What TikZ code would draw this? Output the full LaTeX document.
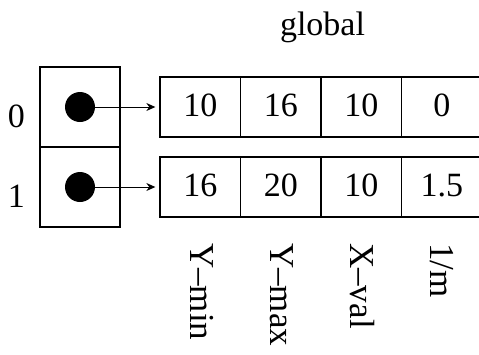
\documentclass[tikz,border=0pt]{standalone}
\usepackage{fontspec}
\setmainfont{Liberation Serif}
\usetikzlibrary{arrows.meta}
\begin{document}
\begin{tikzpicture}[x=1pt,y=-1pt,
  txt/.style={font=\fontsize{34}{40}\selectfont},
  cell/.style={txt,draw,line width=1.3pt,minimum width=80.5pt,minimum height=60pt,
    inner sep=0pt,text height=24pt,text depth=6pt},
  slot/.style={draw,line width=1.3pt,minimum width=80pt,minimum height=80pt,inner sep=0pt},
  dot/.style={circle,fill=black,minimum size=30pt,inner sep=0pt},
  lbl/.style={txt,inner sep=0pt,anchor=base},
  field/.style={font=\fontsize{35}{40}\selectfont,inner sep=0pt,rotate=-90,anchor=base west},
  ptr/.style={line width=1pt,-{Stealth[length=9pt,width=8pt]},shorten >=4pt}]
\useasboundingbox (0,0) rectangle (479,354);
\clip (0,0) rectangle (479,354);

% heading
\node[lbl] (g) at (322.5,35) {global};

% pointer array
\node[slot] (s0) at (80,107) {};
\node[slot] (s1) at (80,187) {};
\node[lbl] (i0) at (16.5,127) {0};
\node[lbl] (i1) at (16.5,207) {1};
\node[dot] (d0) at (80,107) {};
\node[dot] (d1) at (80,187) {};

% records
\node[cell] (a1) at (200.25,107) {10};
\node[cell] (a2) at (280.75,107) {16};
\node[cell] (a3) at (361.25,107) {10};
\node[cell] (a4) at (441.75,107) {0};
\node[cell] (b1) at (200.25,187) {16};
\node[cell] (b2) at (280.75,187) {20};
\node[cell] (b3) at (361.25,187) {10};
\node[cell] (b4) at (441.75,187) {1.5};

% pointers
\draw[ptr] (d0.center) -- (a1.west);
\draw[ptr] (d1.center) -- (b1.west);

% field names
\node[field] (f1) at (190,243) {Y–min};
\node[field] (f2) at (270,243) {Y–max};
\node[field] (f3) at (350,243) {X–val};
\node[field] (f4) at (430,243) {1/m};
\end{tikzpicture}
\end{document}
